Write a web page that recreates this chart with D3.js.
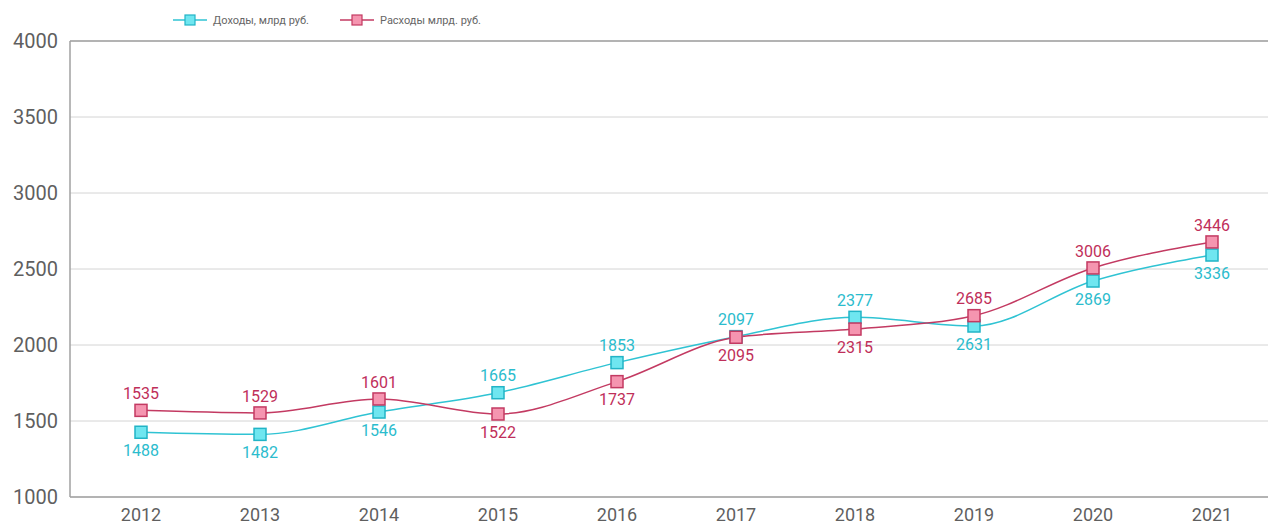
<!DOCTYPE html>
<html>
<head>
<meta charset="utf-8">
<script src="https://cdn.jsdelivr.net/npm/d3@7"></script>
<style>
  body { margin: 0; background: #fff; font-family: Roboto, "Noto Sans", sans-serif; }
</style>
</head>
<body>
<div id="chart"></div>
<script>
// years on the x axis
const years = ['2012', '2013', '2014', '2015', '2016', '2017', '2018', '2019', '2020', '2021'];
// plotted positions
const incomeValues = [1426, 1412, 1559, 1686, 1884, 2055, 2182, 2125, 2421, 2592];
const spendValues = [1570, 1553, 1645, 1546, 1759, 2051, 2105, 2193, 2507, 2678];
// printed labels
const incomeLabels = ['1488', '1482', '1546', '1665', '1853', '2097', '2377', '2631', '2869', '3336'];
const spendLabels = ['1535', '1529', '1601', '1522', '1737', '2095', '2315', '2685', '3006', '3446'];
const yTicks = [1000, 1500, 2000, 2500, 3000, 3500, 4000];
const seriesNames = ['Доходы, млрд руб.', 'Расходы млрд. руб.'];

const width = 1268, height = 527;
const margin = {top: 41, right: 0, bottom: 30, left: 70};

const svg = d3.select('#chart').append('svg')
    .attr('width', width)
    .attr('height', height);

const x = d3.scalePoint()
    .domain(years)
    .range([141, 1212]);

const y = d3.scaleLinear()
    .domain([1000, 4000])
    .range([height - margin.bottom, margin.top]);

// gridlines
svg.append('g')
  .selectAll('line')
  .data(yTicks)
  .join('line')
    .attr('x1', margin.left)
    .attr('x2', width)
    .attr('y1', d => y(d))
    .attr('y2', d => y(d))
    .attr('stroke', d => (d === 1000 || d === 4000) ? '#9a9a9a' : '#d4d4d4')
    .attr('stroke-width', d => (d === 1000 || d === 4000) ? 1.5 : 1);

// left axis line
svg.append('line')
    .attr('x1', margin.left).attr('x2', margin.left)
    .attr('y1', y(4000)).attr('y2', y(1000))
    .attr('stroke', '#a0a0a0')
    .attr('stroke-width', 1.5);

// y tick labels
svg.append('g')
  .selectAll('text')
  .data(yTicks)
  .join('text')
    .attr('x', 58)
    .attr('y', d => y(d))
    .attr('dy', '0.35em')
    .attr('text-anchor', 'end')
    .attr('font-size', 20)
    .attr('fill', '#5f5f5f')
    .text(d => d);

// x tick labels
svg.append('g')
  .selectAll('text')
  .data(years)
  .join('text')
    .attr('x', d => x(d))
    .attr('y', 521)
    .attr('text-anchor', 'middle')
    .attr('font-size', 18)
    .attr('fill', '#5f5f5f')
    .text(d => d);

const series = [
  {name: seriesNames[0], values: incomeValues, labels: incomeLabels, other: spendValues,
   line: '#2fc3d3', fill: '#6fe6f0', stroke: '#22b4c6', text: '#2bbccd'},
  {name: seriesNames[1], values: spendValues, labels: spendLabels, other: incomeValues,
   line: '#c33a62', fill: '#f595b0', stroke: '#c33a62', text: '#bf2f5a'}
];

const line = d3.line()
    .x((d, i) => x(years[i]))
    .y(d => y(d))
    .curve(d3.curveMonotoneX);

series.forEach(s => {
  svg.append('path')
      .datum(s.values)
      .attr('fill', 'none')
      .attr('stroke', s.line)
      .attr('stroke-width', 1.5)
      .attr('d', line);
});

series.forEach(s => {
  svg.append('g')
    .selectAll('rect')
    .data(s.values)
    .join('rect')
      .attr('x', (d, i) => x(years[i]) - 6)
      .attr('y', d => y(d) - 6)
      .attr('width', 12)
      .attr('height', 12)
      .attr('fill', s.fill)
      .attr('stroke', s.stroke)
      .attr('stroke-width', 1.5);

  // value labels: above if this series is higher, else below
  svg.append('g')
    .selectAll('text')
    .data(s.values)
    .join('text')
      .attr('x', (d, i) => x(years[i]))
      .attr('y', (d, i) => d >= s.other[i] ? y(d) - 17 : y(d) + 18)
      .attr('dy', '0.35em')
      .attr('text-anchor', 'middle')
      .attr('font-size', 16)
      .attr('fill', s.text)
      .text((d, i) => s.labels[i]);
});

// legend
const legendPos = [173, 340];
series.forEach((s, i) => {
  const g = svg.append('g').attr('transform', `translate(${legendPos[i]},20)`);
  g.append('line')
      .attr('x1', 0).attr('x2', 34)
      .attr('stroke', s.line)
      .attr('stroke-width', 1.5);
  g.append('rect')
      .attr('x', 12).attr('y', -5)
      .attr('width', 10).attr('height', 10)
      .attr('fill', s.fill)
      .attr('stroke', s.stroke)
      .attr('stroke-width', 1.2);
  g.append('text')
      .attr('x', 40)
      .attr('dy', '0.35em')
      .attr('font-size', 11)
      .attr('fill', '#666')
      .text(s.name);
});
</script>
</body>
</html>
